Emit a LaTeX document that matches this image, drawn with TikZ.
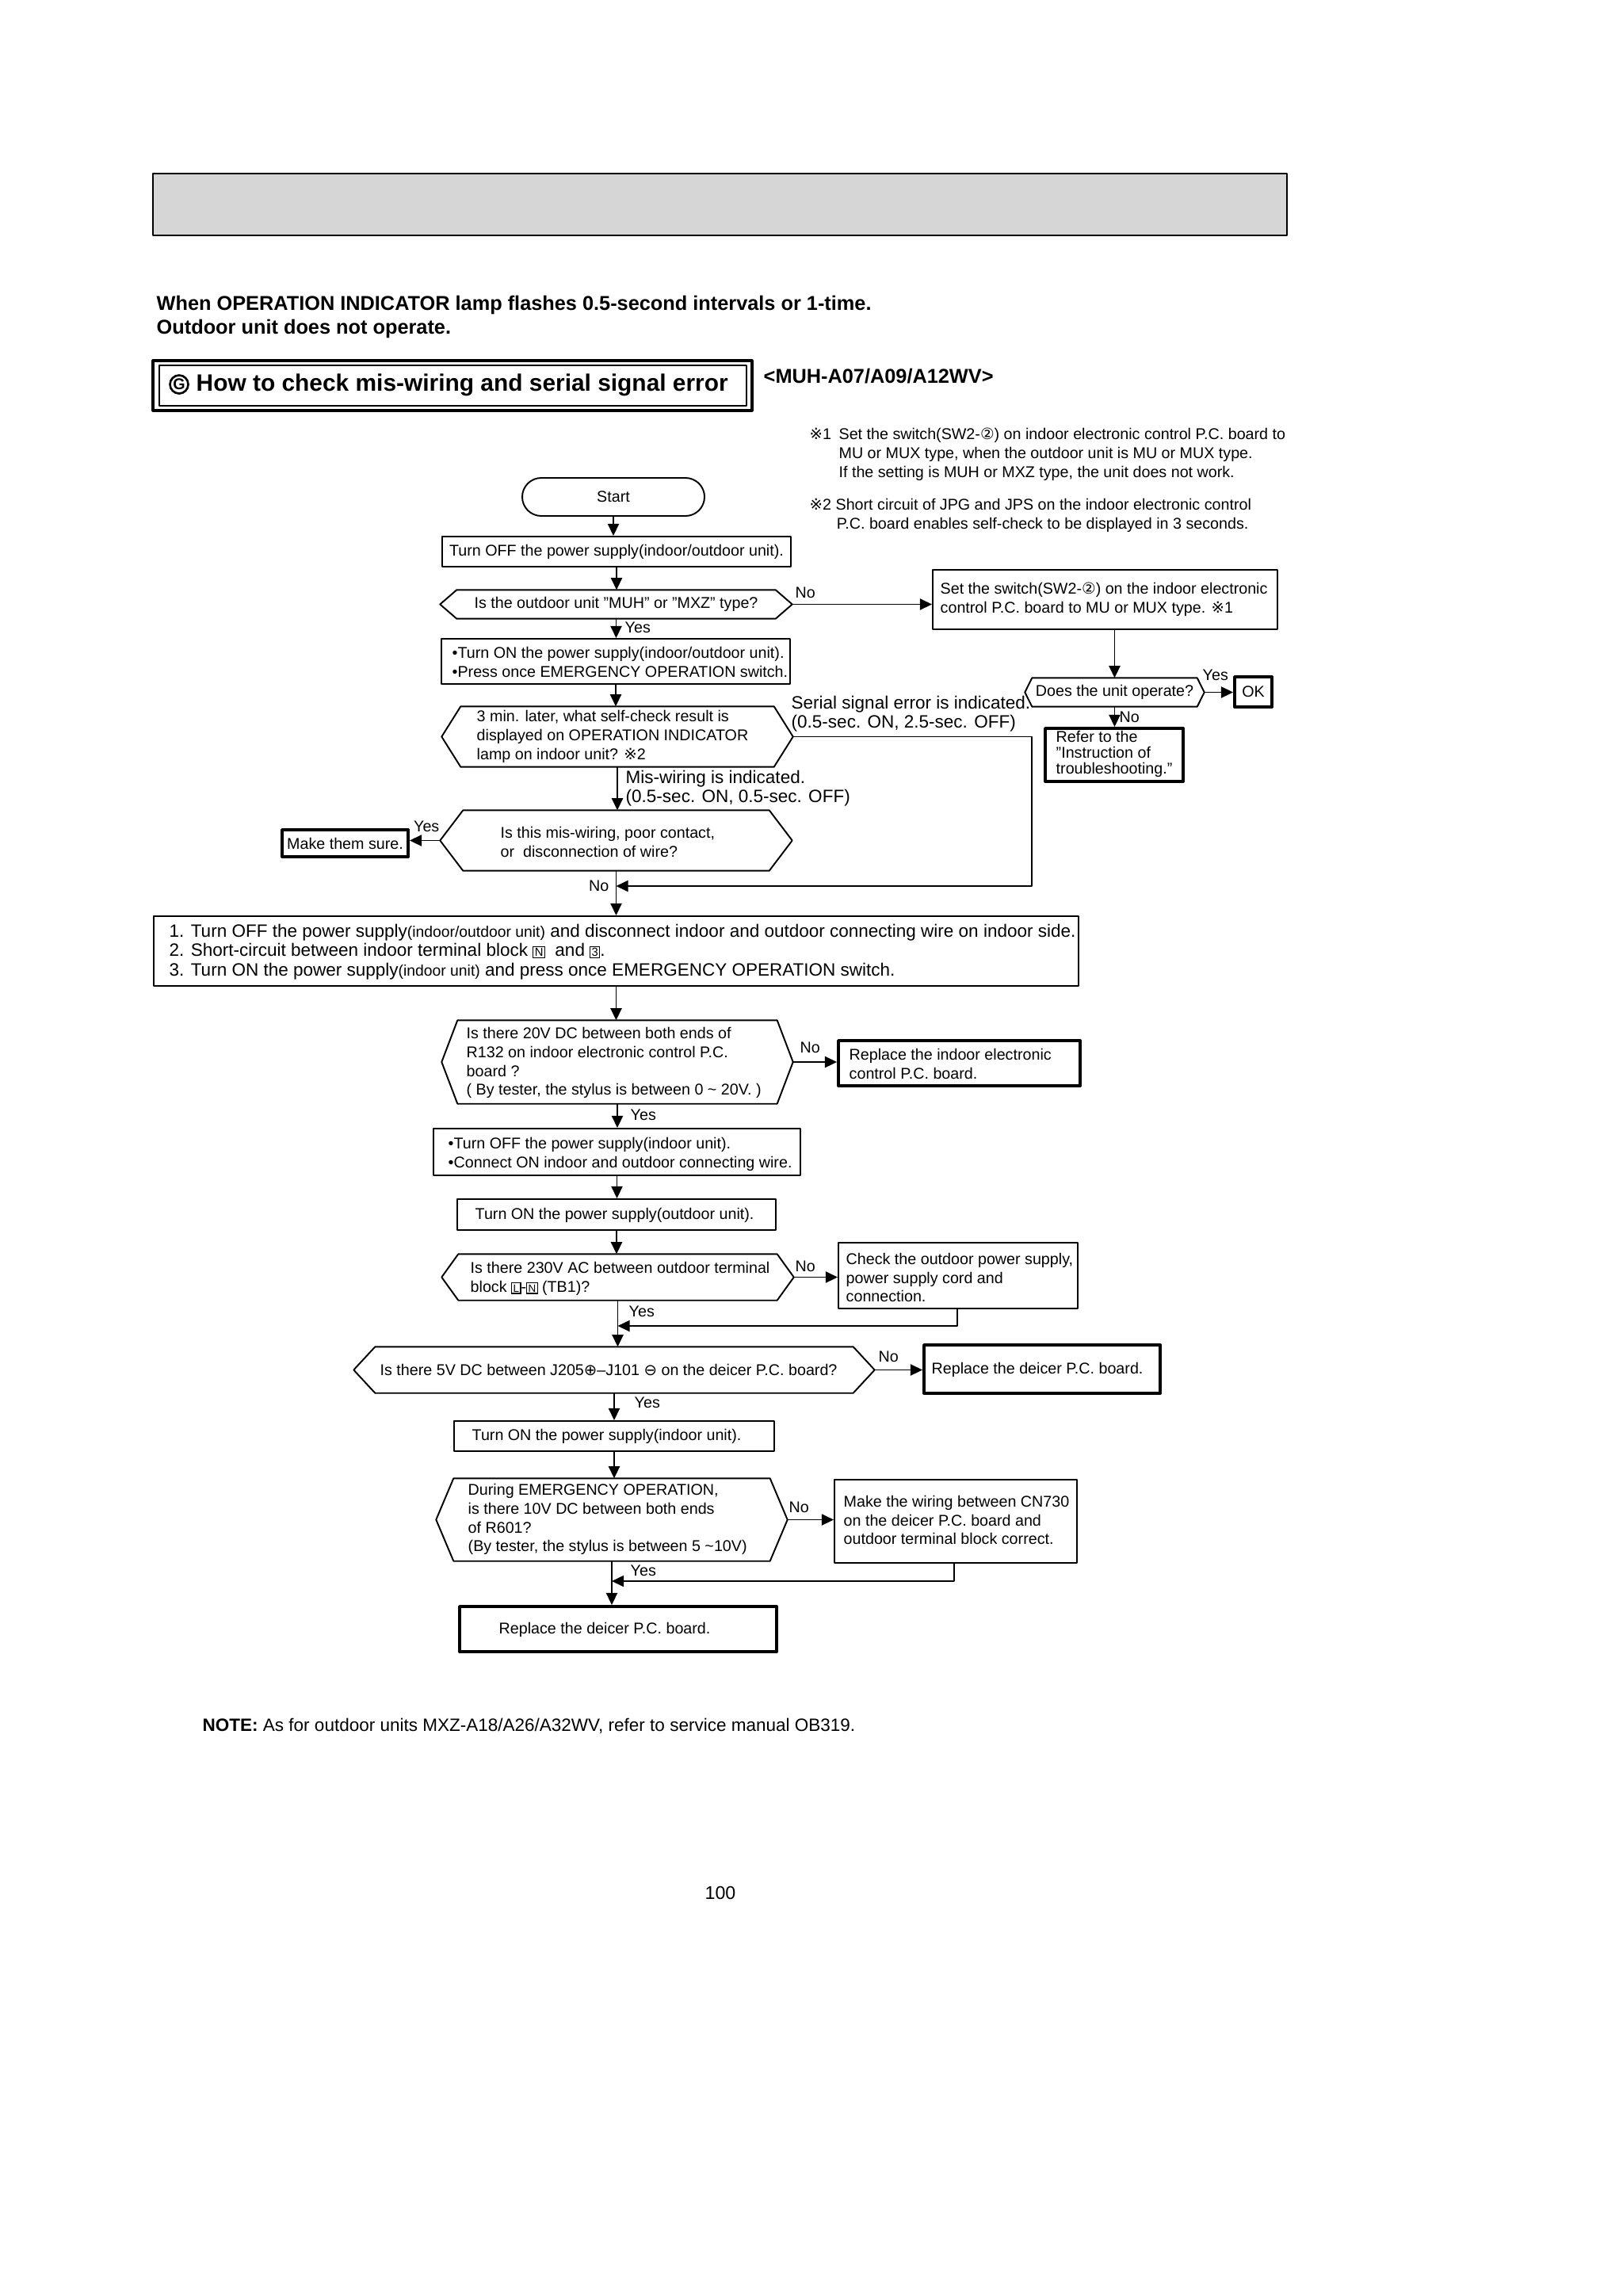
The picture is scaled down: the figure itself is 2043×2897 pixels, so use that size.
\documentclass[tikz,border=0pt]{standalone}
\usepackage{fontspec}
\setmainfont{Liberation Sans}
\newfontfamily\symf{DejaVu Sans}
\usetikzlibrary{arrows.meta,fit}
\definecolor{hdrgray}{RGB}{214,214,214}
\lineskiplimit=-20pt
\newcommand\bodyf{\fontsize{5.6}{6.8}\selectfont}
\newcommand\sqch[2][4.2]{{\setlength\fboxsep{0.4pt}\setlength\fboxrule{0.3pt}\fbox{\fontsize{#1}{#1}\selectfont #2}}}
% hexagon: name, x left point, x right point, y top, y bottom, corner inset
\newcommand\hexa[6]{%
  \node[hexb, fit={(#2,#4) (#3,#5)}] (#1) {};
  \draw[hexl] (#1.west) -- ([xshift=#6]#1.north west) -- ([xshift=-#6]#1.north east)
    -- (#1.east) -- ([xshift=-#6]#1.south east) -- ([xshift=#6]#1.south west) -- cycle;}
\begin{document}
\begin{tikzpicture}[x=0.01cm, y=-0.01cm, line join=round, >={Triangle[length=4.3pt,width=4pt]},
  box/.style={draw, line width=0.55pt, inner sep=0pt},
  tbox/.style={box, line width=1.1pt},
  txt/.style={anchor=west, align=left, inner sep=0pt, font=\bodyf},
  ctr/.style={inner sep=0pt, font=\bodyf},
  lbl/.style={anchor=west, inner sep=0pt, font=\bodyf},
  hexb/.style={inner sep=0pt},
  hexl/.style={line width=0.55pt},
  arr/.style={line width=0.55pt, ->},
  big/.style={font=\fontsize{6.4}{6.8}\selectfont}]
\useasboundingbox (0,0) rectangle (2043,2897);
% page head
\node[draw, line width=0.8pt, fill=hdrgray, inner sep=0pt, fit={(193,219) (1624,297)}] (hdr) {};
\node[anchor=west, align=left, inner sep=0pt, font=\bfseries\fontsize{7.2}{8.5}\selectfont] (head) at (197,400)
  {When OPERATION INDICATOR lamp flashes 0.5-second intervals or 1-time.\\Outdoor unit does not operate.};
\node[draw, line width=0.9pt, inner sep=0pt, fit={(193,455) (949,518)}] (ttlo) {};
\node[draw, line width=0.7pt, inner sep=0pt, fit={(201,461) (942,512)}] (ttli) {};
\node[circle, draw, line width=0.75pt, minimum size=0.23cm, inner sep=0pt, font=\bfseries\fontsize{5.6}{6}\selectfont] (gmark) at (226,485) {G};
\node[anchor=west, inner sep=0pt, font=\bfseries\fontsize{8.5}{10}\selectfont] (ttl) at (247,486)
  {How to check mis-wiring and serial signal error};
\node[anchor=west, inner sep=0pt, font=\bfseries\fontsize{7.2}{8.5}\selectfont] (model) at (963,475) {<MUH-A07/A09/A12WV>};
% notes
\node[txt] (note1) at (1021,573)
  {\makebox[10.5pt][l]{{\symf ※}1}Set the switch(SW2-{\symf ②}) on indoor electronic control P.C. board to\\
   \hspace*{10.5pt}MU or MUX type, when the outdoor unit is MU or MUX type.\\
   \hspace*{10.5pt}If the setting is MUH or MXZ type, the unit does not work.};
\node[txt] (note2) at (1021,650)
  {{\symf ※}2 Short circuit of JPG and JPS on the indoor electronic control\\
   \hspace*{9.7pt}P.C. board enables self-check to be displayed in 3 seconds.};
% main column
\node[box, rounded corners=0.24cm, fit={(659,603) (889,651)}] (start) {};
\node[ctr] (startt) at (start) {Start};
\node[box, fit={(558,677) (998,715)}] (off1) {};
\node[ctr] (off1t) at (off1) {Turn OFF the power supply(indoor/outdoor unit).};
\hexa{q1}{556}{999}{745}{780}{0.21cm}
\node[ctr] (q1t) at (q1) {Is the outdoor unit "MUH" or "MXZ" type?};
\node[box, fit={(557,806) (997,863)}] (on1) {};
\node[txt] (on1t) at (570,835) {{\textbullet}Turn ON the power supply(indoor/outdoor unit).\\{\textbullet}Press once EMERGENCY OPERATION switch.};
\hexa{q2}{558}{1000}{892}{967}{0.24cm}
\node[txt] (q2t) at (601,929) {3 min. later, what self-check result is\\displayed on OPERATION INDICATOR\\lamp on indoor unit? {\symf ※}2};
\hexa{q3}{556}{999}{1023}{1098}{0.29cm}
\node[txt] (q3t) at (631,1062) {Is this mis-wiring, poor contact,\\or\ \ disconnection of wire?};
\node[tbox, fit={(356,1047) (515,1081)}] (sure) {};
\node[ctr] (suret) at (sure) {Make them sure.};
\node[box, fit={(194,1156) (1361,1244)}] (big) {};
\node[txt, font=\fontsize{6.4}{6.9}\selectfont] (bigt) at (213,1201)
  {1. Turn OFF the power supply{\fontsize{5.5}{5.5}\selectfont(indoor/outdoor unit)} and disconnect indoor and outdoor connecting wire on indoor side.\\
   2. Short-circuit between indoor terminal block \sqch{N}\ \ and \sqch{3}.\\
   3. Turn ON the power supply{\fontsize{5.5}{5.5}\selectfont(indoor unit)} and press once EMERGENCY OPERATION switch.};
\hexa{q4}{558}{1000}{1288}{1392}{0.20cm}
\node[txt] (q4t) at (588,1341) {Is there 20V DC between both ends of\\R132 on indoor electronic control P.C.\\board ?\\( By tester, the stylus is between 0 \textasciitilde\ 20V. )};
\node[tbox, fit={(1058,1313) (1363,1370)}] (rep1) {};
\node[txt] (rep1t) at (1071,1342) {Replace the indoor electronic\\control P.C. board.};
\node[box, fit={(547,1424) (1010,1483)}] (off2) {};
\node[txt] (off2t) at (565,1456) {{\textbullet}Turn OFF the power supply(indoor unit).\\{\textbullet}Connect ON indoor and outdoor connecting wire.};
\node[box, fit={(577,1513) (979,1552)}] (on2) {};
\node[txt] (on2t) at (599,1533) {Turn ON the power supply(outdoor unit).};
\hexa{q5}{558}{1001}{1583}{1640}{0.21cm}
\node[txt] (q5t) at (593,1613) {Is there 230V AC between outdoor terminal\\block \sqch[3.8]{L}-\sqch[3.8]{N} (TB1)?};
\node[box, fit={(1058,1568) (1360,1651)}] (chk) {};
\node[txt] (chkt) at (1067,1612) {Check the outdoor power supply,\\power supply cord and\\connection.};
\hexa{q6}{447}{1103}{1700}{1757}{0.27cm}
\node[txt] (q6t) at (479,1728) {Is there 5V DC between J205{\symf ⊕}–J101 {\symf ⊖} on the deicer P.C. board?};
\node[tbox, fit={(1166,1697) (1464,1758)}] (rep2) {};
\node[txt] (rep2t) at (1175,1728) {Replace the deicer P.C. board.};
\node[box, fit={(573,1793) (977,1831)}] (on3) {};
\node[txt] (on3t) at (595,1812) {Turn ON the power supply(indoor unit).};
\hexa{q7}{551}{993}{1866}{1969}{0.22cm}
\node[txt] (q7t) at (590,1917) {During EMERGENCY OPERATION,\\is there 10V DC between both ends\\of R601?\\(By tester, the stylus is between 5 \textasciitilde10V)};
\node[box, fit={(1053,1867) (1359,1972)}] (wir) {};
\node[txt] (wirt) at (1064,1918) {Make the wiring between CN730\\on the deicer P.C. board and\\outdoor terminal block correct.};
\node[tbox, fit={(580,2027) (980,2084)}] (fin) {};
\node[txt] (fint) at (629,2056) {Replace the deicer P.C. board.};
% right branch
\node[box, fit={(1177,719) (1612,794)}] (sw1) {};
\node[txt] (sw1t) at (1186,756) {Set the switch(SW2-{\symf ②}) on the indoor electronic\\control P.C. board to MU or MUX type. {\symf ※}1};
\hexa{q8}{1294}{1519}{856}{891}{0.09cm}
\node[ctr] (q8t) at (q8) {Does the unit operate?};
\node[tbox, fit={(1558,854) (1605,892)}] (ok) {};
\node[ctr] (okt) at (ok) {OK};
\node[tbox, fit={(1319,919) (1493,986)}] (ref) {};
\node[txt, font=\fontsize{5.6}{5.7}\selectfont] (reft) at (1332,951) {Refer to the\\"Instruction of\\troubleshooting."};
% connectors
\foreach \a/\b in {start/off1, off1/q1, q1/on1, on1/q2, q2/q3, q3/big, big/q4, q4/off2,
                   off2/on2, on2/q5, q5/q6, q6/on3, on3/q7, q7/fin}
  \draw[arr] (\a.south) -- (\a.south |- \b.north);
\draw[arr] (q1.east) -- (q1.east -| sw1.west);
\draw[arr] (sw1.south -| q8.north) -- (q8.north);
\draw[arr] (q8.east) -- (q8.east -| ok.west);
\draw[arr] (q8.south) -- (q8.south |- ref.north);
\draw[arr] (q3.west) -- (q3.west -| sure.east);
\draw[arr] (q4.east) -- (q4.east -| rep1.west);
\draw[arr] (q5.east) -- (q5.east -| chk.west);
\draw[arr] (q6.east) -- (q6.east -| rep2.west);
\draw[arr] (q7.east) -- (q7.east -| wir.west);
\coordinate (jn1) at (1302,1118);
\coordinate (jn2) at (1208,1673);
\coordinate (jn3) at (1204,1995);
\draw[arr] (q2.east) -| (jn1) -- (jn1 -| q3.south);
\draw[arr] (chk.south -| jn2) -- (jn2) -- (jn2 -| q5.south);
\draw[arr] (wir.south -| jn3) -- (jn3) -- (jn3 -| q7.south);
% labels
\node[lbl] (no1) at (1003,748) {No};
\node[lbl] (yes1) at (788,792) {Yes};
\node[txt, big] (ser) at (998,901) {Serial signal error is indicated.\\(0.5-sec. ON, 2.5-sec. OFF)};
\node[txt, big] (mis) at (789,995) {Mis-wiring is indicated.\\(0.5-sec. ON, 0.5-sec. OFF)};
\node[lbl, anchor=east] (yes2) at (555,1043) {Yes};
\node[lbl, anchor=east] (no2) at (769,1118) {No};
\node[lbl] (no3) at (1009,1322) {No};
\node[lbl] (yes3) at (795,1407) {Yes};
\node[lbl] (no4) at (1003,1598) {No};
\node[lbl] (yes4) at (793,1655) {Yes};
\node[lbl] (no5) at (1108,1712) {No};
\node[lbl] (yes5) at (800,1770) {Yes};
\node[lbl] (no6) at (995,1902) {No};
\node[lbl] (yes6) at (795,1982) {Yes};
\node[lbl] (yes7) at (1517,852) {Yes};
\node[lbl] (no7) at (1412,905) {No};
% foot
\node[txt, font=\fontsize{6.4}{8}\selectfont] (note) at (255,2178) {\textbf{NOTE:} As for outdoor units MXZ-A18/A26/A32WV, refer to service manual OB319.};
\node[inner sep=0pt, font=\fontsize{6.6}{8}\selectfont] (pg) at (909,2388) {100};
\end{tikzpicture}
\end{document}
